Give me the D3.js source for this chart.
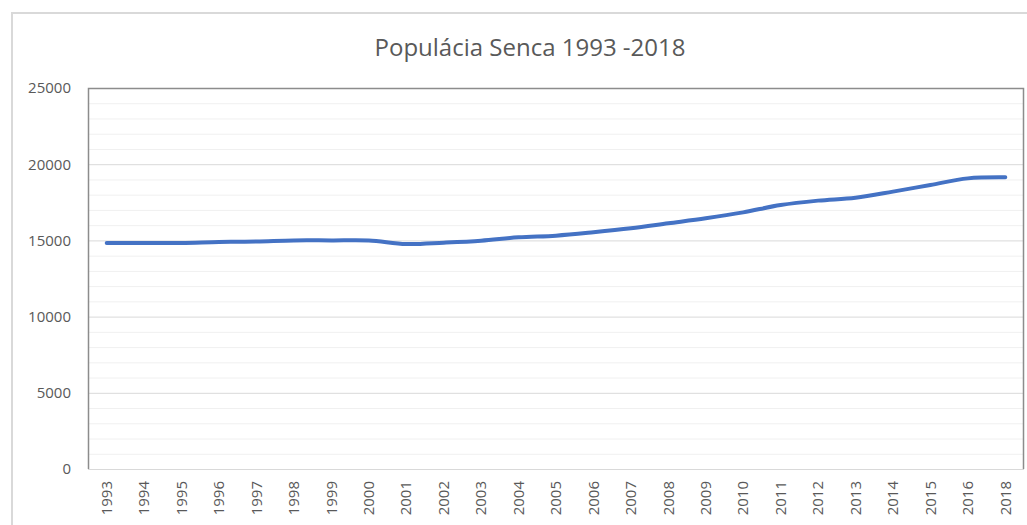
<!DOCTYPE html>
<html>
<head>
<meta charset="utf-8">
<script src="https://cdn.jsdelivr.net/npm/d3@7"></script>
<style>
  body { margin: 0; background: #fff; }
  text { font-family: "Open Sans", sans-serif; fill: #595959; }
</style>
</head>
<body>
<script>
// years as shown on the axis (2017 is not in the source chart)
var years = ["1993","1994","1995","1996","1997","1998","1999","2000","2001","2002",
  "2003","2004","2005","2006","2007","2008","2009","2010","2011","2012",
  "2013","2014","2015","2016","2018"];
var population = [14830, 14830, 14830, 14900, 14930, 15000, 15000, 15000, 14760, 14850,
  14980, 15200, 15310, 15530, 15790, 16120, 16450, 16840, 17320, 17610,
  17800, 18200, 18640, 19070, 19140];
var yTicks = [0, 5000, 10000, 15000, 20000, 25000];
var title = "Populácia Senca 1993 -2018";

var width = 1027, height = 525;
var margin = {left: 88, top: 88, right: 3, bottom: 56};

var svg = d3.select("body").append("svg")
  .attr("width", width)
  .attr("height", height);

// outer chart frame
svg.append("rect")
  .attr("x", 12).attr("y", 13)
  .attr("width", width + 20).attr("height", height + 20)
  .attr("fill", "#fff")
  .attr("stroke", "#d9d9d9")
  .attr("stroke-width", 2);

var x = d3.scaleBand()
  .domain(years)
  .range([margin.left, width - margin.right]);

var y = d3.scaleLinear()
  .domain([0, 25000])
  .range([height - margin.bottom, margin.top]);

// minor gridlines
svg.append("g")
  .selectAll("line")
  .data(d3.range(1000, 25000, 1000).filter(function(d) { return d % 5000 != 0; }))
  .enter().append("line")
    .attr("x1", margin.left).attr("x2", width - margin.right)
    .attr("y1", function(d) { return y(d) + 0.5; })
    .attr("y2", function(d) { return y(d) + 0.5; })
    .attr("stroke", "#f0f0f0");

// major gridlines
svg.append("g")
  .selectAll("line")
  .data(yTicks)
  .enter().append("line")
    .attr("x1", margin.left).attr("x2", width - margin.right)
    .attr("y1", function(d) { return y(d) + 0.5; })
    .attr("y2", function(d) { return y(d) + 0.5; })
    .attr("stroke", "#d9d9d9");

// plot area border (left, top, right)
svg.append("path")
  .attr("d", "M" + (margin.left + 0.5) + "," + y(0) +
    "V" + (y(25000) + 0.5) +
    "H" + (width - margin.right - 0.5) +
    "V" + y(0))
  .attr("fill", "none")
  .attr("stroke", "#8c8c8c")
  .attr("stroke-width", 1.5);

// y axis labels
var yAxis = d3.axisLeft(y).tickValues(yTicks).tickFormat(d3.format("d")).tickSize(0).tickPadding(17);
svg.append("g")
  .attr("transform", "translate(" + margin.left + ",0)")
  .call(yAxis)
  .call(function(g) { g.select(".domain").remove(); })
  .selectAll("text")
    .attr("font-size", 15)
    .attr("font-family", "Open Sans, sans-serif")
    .attr("fill", "#595959");

// x axis labels
var xAxis = d3.axisBottom(x).tickSize(0).tickPadding(0);
svg.append("g")
  .attr("transform", "translate(0," + y(0) + ")")
  .call(xAxis)
  .call(function(g) { g.select(".domain").remove(); })
  .selectAll("text")
    .attr("font-size", 15)
    .attr("font-family", "Open Sans, sans-serif")
    .attr("fill", "#595959")
    .attr("text-anchor", "end")
    .attr("transform", "rotate(-90)")
    .attr("x", -12)
    .attr("y", 0)
    .attr("dy", "0.35em");

// the line
var line = d3.line()
  .x(function(d, i) { return x(years[i]) + x.bandwidth() / 2; })
  .y(function(d) { return y(d); })
  .curve(d3.curveCatmullRom.alpha(0.5));

svg.append("path")
  .datum(population)
  .attr("d", line)
  .attr("fill", "none")
  .attr("stroke", "#4472c4")
  .attr("stroke-width", 4)
  .attr("stroke-linecap", "round")
  .attr("stroke-linejoin", "round");

svg.append("text")
  .attr("x", 530)
  .attr("y", 56)
  .attr("text-anchor", "middle")
  .attr("font-size", 24)
  .text(title);
</script>
</body>
</html>
